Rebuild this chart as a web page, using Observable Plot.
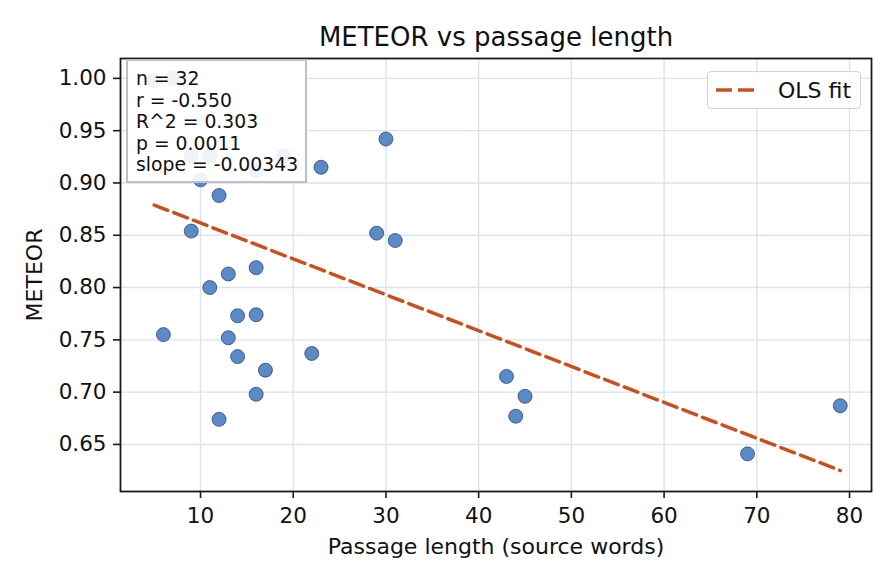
<!DOCTYPE html>
<html>
<head>
<meta charset="utf-8">
<script src="https://cdn.jsdelivr.net/npm/d3@7"></script>
<script src="https://cdn.jsdelivr.net/npm/@observablehq/plot@0.6"></script>
<style>
  html, body { margin: 0; padding: 0; background: #fff; }
  #wrap { position: relative; width: 896px; height: 584px; font-family: "DejaVu Sans", sans-serif; }
  #stats {
    position: absolute; box-sizing: border-box;
    background: rgba(255,255,255,0.9);
    border: 2px solid #b6c2d2;
    font-size: 18.8px; line-height: 21.5px; color: #111;
    padding: 7px 6px 8px 8px; white-space: pre;
  }
  #legend {
    position: absolute; box-sizing: border-box;
    background: rgba(255,255,255,0.85);
    border: 1.5px solid #d4d4d4; border-radius: 4px;
    display: flex; align-items: center;
    font-size: 22px; color: #111;
  }
</style>
</head>
<body>
<div id="wrap"></div>
<script>
// Passage length (source words) and METEOR score per passage
const lengths = [6, 9, 10, 11, 12, 12, 13, 13, 14, 14, 16, 16, 16, 17, 22, 23, 29, 30, 31, 43, 44, 45, 69, 79,
                 5, 7, 9, 11, 19, 16];
const meteor  = [0.755, 0.854, 0.903, 0.800, 0.888, 0.674, 0.813, 0.752, 0.773, 0.734, 0.819, 0.774, 0.698, 0.721,
                 0.737, 0.915, 0.852, 0.942, 0.845, 0.715, 0.677, 0.696, 0.641, 0.687,
                 0.998, 1.000, 0.926, 0.926, 0.926, 0.912];

// Reported fit statistics
const statLabels = ["n", "r", "R^2", "p", "slope"];
const statValues = ["32", "-0.550", "0.303", "0.0011", "-0.00343"];
const olsSlope = -0.00343;
const olsIntercept = 0.896;

const xTicks = [10, 20, 30, 40, 50, 60, 70, 80];
const yTicks = [0.65, 0.70, 0.75, 0.80, 0.85, 0.90, 0.95, 1.00];

const points = lengths.map((len, i) => ({len, score: meteor[i]}));
const xExt = d3.extent(lengths);
const fitLine = xExt.map(len => ({len, score: olsIntercept + olsSlope * len}));

const M = {left: 120, right: 25, top: 58, bottom: 93};
const W = 896, H = 584;
const lineColor = "#c9501c";
const dash = "14.5,6.5";

const chart = Plot.plot({
  width: W, height: H,
  marginLeft: M.left, marginRight: M.right, marginTop: M.top, marginBottom: M.bottom,
  style: {fontFamily: "DejaVu Sans", fontSize: "21.5px", color: "#111", background: "#fff"},
  x: {domain: [1.37, 82.37]},
  y: {domain: [0.605, 1.019]},
  marks: [
    Plot.gridX(xTicks, {stroke: "#dce3ec", strokeOpacity: 1, strokeWidth: 1.4}),
    Plot.gridY(yTicks, {stroke: "#dce3ec", strokeOpacity: 1, strokeWidth: 1.4}),
    Plot.line(fitLine, {x: "len", y: "score", stroke: lineColor, strokeWidth: 3.5, strokeDasharray: dash}),
    Plot.dot(points, {x: "len", y: "score", r: 7, fill: "#5b8bc6", stroke: "#24385a", strokeWidth: 0.7}),
    Plot.frame({stroke: "#1a1a1a", strokeWidth: 1.8}),
    Plot.axisX(xTicks, {tickSize: 7, tickPadding: 9, fontSize: 21.5, label: null, stroke: "#1a1a1a", strokeWidth: 1.6}),
    Plot.axisY(yTicks, {tickSize: 7, tickPadding: 7, fontSize: 21.5, label: null, tickFormat: d3.format(".2f"), stroke: "#1a1a1a", strokeWidth: 1.6}),
    Plot.text(["METEOR vs passage length"], {frameAnchor: "top", dy: -21, fontSize: 26, lineAnchor: "middle"}),
    Plot.text(["Passage length (source words)"], {frameAnchor: "bottom", dy: 55, fontSize: 22, lineAnchor: "middle"}),
    Plot.text(["METEOR"], {frameAnchor: "left", dx: -86, rotate: -90, fontSize: 22, textAnchor: "middle", lineAnchor: "middle"})
  ]
});

const wrap = document.getElementById("wrap");
wrap.appendChild(chart);

// Statistics annotation, top-left inside the axes
const stats = document.createElement("div");
stats.id = "stats";
stats.textContent = statLabels.map((k, i) => `${k} = ${statValues[i]}`).join("\n");
stats.style.left = (M.left + 6) + "px";
stats.style.top = (M.top + 1) + "px";
stats.style.width = "181px";
stats.style.height = "124px";
wrap.appendChild(stats);

// Legend, top-right inside the axes
const legend = document.createElement("div");
legend.id = "legend";
legend.style.left = "707px";
legend.style.top = "71px";
legend.style.width = "154px";
legend.style.height = "38px";
legend.innerHTML = `<svg width="40" height="10" style="margin-left:7px;margin-right:23px;flex:none">
  <line x1="1" y1="5" x2="39" y2="5" stroke="${lineColor}" stroke-width="3.5" stroke-dasharray="16,6"/></svg><span>OLS fit</span>`;
wrap.appendChild(legend);
</script>
</body>
</html>
